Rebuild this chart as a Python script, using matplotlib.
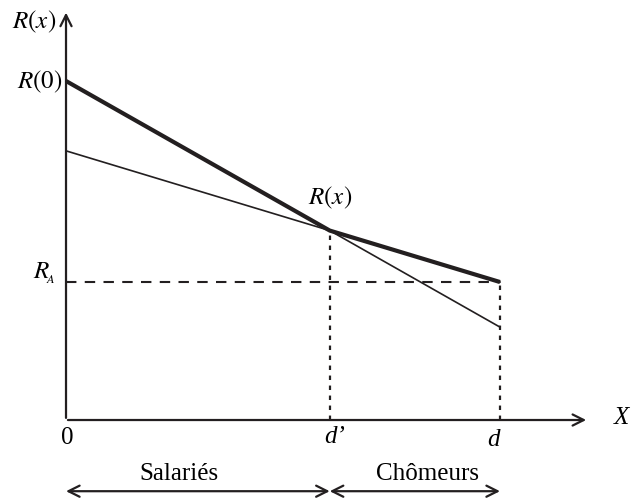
import matplotlib
matplotlib.use("Agg")
import matplotlib.pyplot as plt

plt.rcParams['font.family'] = ['Liberation Serif', 'DejaVu Serif']
plt.rcParams['mathtext.fontset'] = 'stix'

# values (arbitrary units)
d_prime = 6.08
d = 10.0
x_ends = [0, d]
steep = [10.0, 2.74]      # R(0) line
flat = [7.94, 4.07]       # flatter line
R_A = 4.07
x_max = 12.05
y_max = 12.1

# intersection
s1 = (steep[1] - steep[0]) / d
s2 = (flat[1] - flat[0]) / d
xi = (flat[0] - steep[0]) / (s1 - s2)
yi = steep[0] + s1 * xi

fig = plt.figure(figsize=(6.4, 5.02), dpi=100)
ax = fig.add_axes([0, 0, 1, 1])
ax.set_xlim(-1.521, 13.226)
ax.set_ylim(-2.389, 12.419)
ax.axis('off')

ink = '#231f20'
# axes arrows
ax.annotate('', xy=(0, y_max), xytext=(0, -0.02),
            arrowprops=dict(arrowstyle='->', lw=1.6, color=ink, mutation_scale=20))
ax.annotate('', xy=(x_max, 0), xytext=(-0.02, 0),
            arrowprops=dict(arrowstyle='->', lw=1.6, color=ink, mutation_scale=20))

# thin lines
ax.plot(x_ends, steep, color=ink, lw=1.2)
ax.plot(x_ends, flat, color=ink, lw=1.2)
# thick envelope
ax.plot([0, xi, d], [steep[0], yi, flat[1]], color=ink, lw=3.0,
        solid_capstyle='butt', solid_joinstyle='round')

# dashed R_A
ax.plot([0, d], [R_A, R_A], color=ink, lw=1.5, linestyle=(0, (5, 4)))
# dotted verticals
ax.plot([xi, xi], [0, yi], color=ink, lw=1.6, linestyle=(0, (2, 2.5)))
ax.plot([d, d], [0, R_A], color=ink, lw=1.6, linestyle=(0, (2, 2.5)))

fs = 18
ax.text(-0.23, 11.77, r'$R(x)$', fontsize=fs, ha='right', va='center')
ax.text(-0.07, steep[0], r'$R(0)$', fontsize=fs, ha='right', va='center')
ax.text(-0.5, R_A + 0.3, r'$R_{\!_A}$', fontsize=fs, ha='center', va='center')
ax.text(xi, yi + 1.0, r'$R(x)$', fontsize=fs, ha='center', va='center')
ax.text(0.02, -0.5, '0', fontsize=fs, ha='center', va='center')
ax.text(6.2, -0.47, 'd’', fontsize=fs, ha='center', va='center', style='italic')
ax.text(9.84, -0.55, 'd', fontsize=fs, ha='center', va='center', style='italic')
ax.text(12.8, 0.08, 'X', fontsize=fs, ha='center', va='center', style='italic')
ax.text(2.6, -1.56, 'Salariés', fontsize=fs, ha='center', va='center')
ax.text(8.32, -1.56, 'Chômeurs', fontsize=fs, ha='center', va='center')

# bottom arrows
ax.annotate('', xy=(0, -2.1), xytext=(xi, -2.1),
            arrowprops=dict(arrowstyle='<->', lw=1.6, color=ink,
                            mutation_scale=20, shrinkA=0, shrinkB=0))
ax.annotate('', xy=(xi, -2.1), xytext=(d, -2.1),
            arrowprops=dict(arrowstyle='<->', lw=1.6, color=ink,
                            mutation_scale=20, shrinkA=0, shrinkB=0))

fig.savefig('out.png', dpi=100)
